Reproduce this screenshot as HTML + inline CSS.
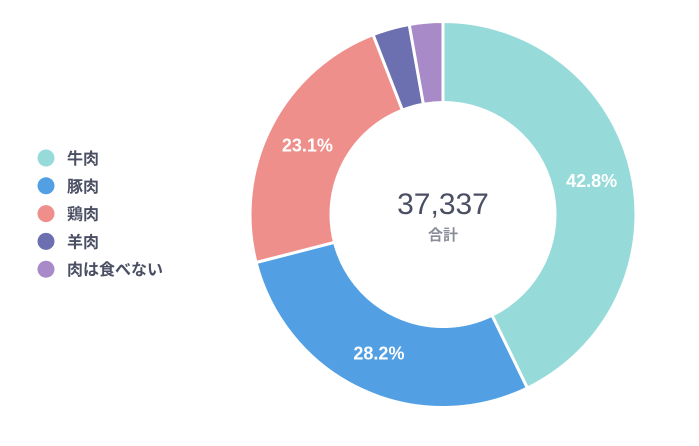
<!DOCTYPE html>
<html><head><meta charset="utf-8"><style>
body{margin:0;background:#fff;width:699px;height:441px;overflow:hidden;font-family:"Liberation Sans","Noto Sans CJK JP",sans-serif}
</style></head><body>
<svg id="chart" width="699" height="441" xmlns="http://www.w3.org/2000/svg"></svg>
<script>
const categories=["牛肉","豚肉","鶏肉","羊肉","肉は食べない"];
const values=[42.8,28.2,23.1,3.1,2.8];
const labels=["42.8%","28.2%","23.1%","",""];
const colors=["#96dbd9","#52a0e3","#ef8f8b","#6d70b0","#a88ac8"];
const totalText="37,337";
const NS="http://www.w3.org/2000/svg";
const svg=document.getElementById('chart');
const cx=443,cy=214.5,ro=193,ri=112;
function el(t,a){const e=document.createElementNS(NS,t);for(const k in a)e.setAttribute(k,a[k]);svg.appendChild(e);return e;}
const sum=values.reduce((a,b)=>a+b,0);
function pt(r,a){return [cx+r*Math.sin(a),cy-r*Math.cos(a)];}
let acc=0;
values.forEach((v,i)=>{
  const a0=acc/sum*2*Math.PI, a1=(acc+v)/sum*2*Math.PI; acc+=v;
  const large=(a1-a0)>Math.PI?1:0;
  const [x0,y0]=pt(ro,a0),[x1,y1]=pt(ro,a1),[x2,y2]=pt(ri,a1),[x3,y3]=pt(ri,a0);
  const p=el('path',{d:`M${x0},${y0}A${ro},${ro} 0 ${large} 1 ${x1},${y1}L${x2},${y2}A${ri},${ri} 0 ${large} 0 ${x3},${y3}Z`,fill:colors[i],stroke:'#fff','stroke-width':3});
  
  
  if(labels[i]){
    const [lx,ly]=pt((ro+ri)/2,(a0+a1)/2);
    const t=el('text',{x:lx,y:ly+6.5,'text-anchor':'middle',fill:'#fff','font-size':18,'font-weight':'bold'});
    t.textContent=labels[i];
    
    
  }
  const ly=158+i*27.8;
  const c=el('circle',{cx:46,cy:ly,r:8.5,fill:colors[i]});
  
  
  const lt=el('text',{x:67,y:ly+6,fill:'#4a4f63','font-size':16,'font-weight':'bold'});
  lt.textContent=categories[i];
  
  
});
const tt=el('text',{x:cx,y:214,'text-anchor':'middle',fill:'#4a4f63','font-size':30});
tt.textContent=totalText;


const st=el('text',{x:cx,y:240,'text-anchor':'middle',fill:'#8a8d99','font-size':15,'font-weight':'bold'});
st.textContent="合計";


</script>
</body></html>
